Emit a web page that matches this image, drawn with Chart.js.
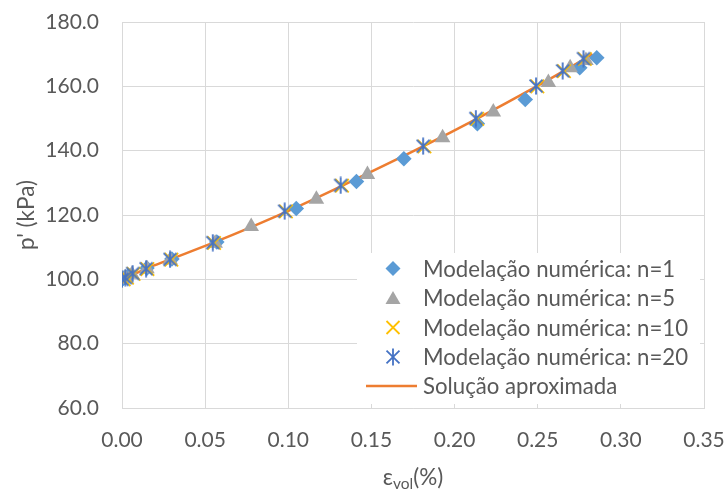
<!DOCTYPE html>
<html>
<head>
<meta charset="utf-8">
<script src="https://cdn.jsdelivr.net/npm/chart.js@4.4.1/dist/chart.umd.min.js"></script>
<style>
html,body{margin:0;padding:0;background:#fff;}
#c{display:block;}
</style>
</head>
<body>
<canvas id="c" width="726" height="492"></canvas>
<script>
// ---- data ----
const seriesNames = ["Modelação numérica: n=1","Modelação numérica: n=5","Modelação numérica: n=10","Modelação numérica: n=20","Solução aproximada"];
const n1X = [0.000,0.001,0.004,0.015,0.030,0.057,0.1048,0.141,0.1695,0.2137,0.2425,0.2753,0.2855];
const n1Y = [100.0,100.4,101.2,103.5,106.3,111.6,122.0,130.4,137.5,148.4,155.9,165.8,168.9];
const n5X = [0.000,0.002,0.006,0.015,0.029,0.056,0.0777,0.1169,0.1476,0.1928,0.2233,0.2564,0.2695,0.279];
const n5Y = [100.0,100.5,101.6,103.3,106.0,111.2,116.4,124.9,132.6,144.0,152.0,161.2,165.8,168.0];
const n10X = [0.001,0.003,0.007,0.0153,0.0297,0.0554,0.0986,0.1323,0.1819,0.2136,0.2498,0.2658,0.2783];
const n10Y = [100.0,100.5,101.7,103.2,106.1,111.3,121.1,129.1,141.3,149.9,160.0,164.7,168.5];
const n20X = [0.000,0.002,0.0064,0.0145,0.0289,0.0546,0.0978,0.1315,0.1811,0.2128,0.249,0.265,0.2775];
const n20Y = [100.0,100.5,101.8,103.3,106.2,111.4,121.2,129.2,141.4,150.0,160.1,164.8,168.6];
const lineX = [0.000,0.0064,0.0145,0.029,0.055,0.078,0.098,0.132,0.181,0.213,0.249,0.265,0.283];
const lineY = [100.0,101.4,103.3,106.2,111.4,116.3,120.8,129.0,141.3,149.8,159.9,164.6,170.0];
const xTicks = [0.00,0.05,0.10,0.15,0.20,0.25,0.30,0.35];
const yTicks = [60,80,100,120,140,160,180];

const pts = (xs, ys) => xs.map((x, i) => ({x: x, y: ys[i]}));

const FONT = 'Lato, "Open Sans", sans-serif';
const TXT = '#595959';
const C1 = '#5B9BD5', C5 = '#A5A5A5', C10 = '#FFC000', C20 = '#4472C4', CL = '#ED7D31';

function asteriskCanvas(size, color, lw) {
  const cv = document.createElement('canvas');
  cv.width = size; cv.height = size;
  const g = cv.getContext('2d');
  const c = size / 2, d = size * 0.36, v = size * 0.47;
  g.strokeStyle = color; g.lineWidth = lw; g.lineCap = 'butt';
  g.beginPath();
  g.moveTo(c - d, c - d); g.lineTo(c + d, c + d);
  g.moveTo(c + d, c - d); g.lineTo(c - d, c + d);
  g.moveTo(c, c - v); g.lineTo(c, c + v);
  g.stroke();
  return cv;
}
const astImg = asteriskCanvas(18, C20, 1.8);

function drawMarker(ctx, kind, x, y) {
  ctx.save();
  if (kind === 'diamond') {
    const r = 7.5;
    ctx.fillStyle = C1;
    ctx.beginPath();
    ctx.moveTo(x, y - r); ctx.lineTo(x + r, y); ctx.lineTo(x, y + r); ctx.lineTo(x - r, y);
    ctx.closePath(); ctx.fill();
  } else if (kind === 'triangle') {
    ctx.fillStyle = C5;
    ctx.beginPath();
    ctx.moveTo(x, y - 7); ctx.lineTo(x + 7.5, y + 6); ctx.lineTo(x - 7.5, y + 6);
    ctx.closePath(); ctx.fill();
  } else if (kind === 'cross') {
    const d = 6.5;
    ctx.strokeStyle = C10; ctx.lineWidth = 1.8;
    ctx.beginPath();
    ctx.moveTo(x - d, y - d); ctx.lineTo(x + d, y + d);
    ctx.moveTo(x + d, y - d); ctx.lineTo(x - d, y + d);
    ctx.stroke();
  } else if (kind === 'ast') {
    ctx.drawImage(astImg, x - 9, y - 9);
  } else if (kind === 'line') {
    ctx.strokeStyle = CL; ctx.lineWidth = 2.5;
    ctx.beginPath(); ctx.moveTo(x - 27, y); ctx.lineTo(x + 24, y); ctx.stroke();
  }
  ctx.restore();
}

const decor = {
  id: 'decor',
  afterDraw(chart) {
    const ctx = chart.ctx;
    const a = chart.chartArea;
    ctx.save();
    // legend box
    const bx = 357, by = 253, bw = 343, bh = 151;
    ctx.fillStyle = '#ffffff';
    ctx.fillRect(bx, by, bw, bh);
    const kinds = ['diamond','triangle','cross','ast','line'];
    const rowY = [268.5, 298, 327.5, 357, 386];
    ctx.font = '22.2px ' + FONT;
    ctx.fillStyle = TXT;
    ctx.textBaseline = 'middle';
    ctx.textAlign = 'left';
    for (let i = 0; i < kinds.length; i++) {
      drawMarker(ctx, kinds[i], 393, rowY[i]);
      ctx.fillStyle = TXT;
      ctx.fillText(seriesNames[i], 423, rowY[i] + 1);
    }
    // y title
    ctx.save();
    ctx.translate(27, (a.top + a.bottom) / 2);
    ctx.rotate(-Math.PI / 2);
    ctx.textAlign = 'center';
    ctx.font = '22.5px ' + FONT;
    ctx.fillText("p' (kPa)", 0, 0);
    ctx.restore();
    // x title with subscript
    const main = '22.5px ' + FONT, sub = '15.5px ' + FONT;
    ctx.font = main; const w1 = ctx.measureText('ε').width;
    const w3 = ctx.measureText('(%)').width;
    ctx.font = sub; const w2 = ctx.measureText('vol').width;
    const tot = w1 + w2 + w3;
    let x0 = (a.left + a.right) / 2 - tot / 2;
    const ty = 478;
    ctx.textAlign = 'left';
    ctx.font = main; ctx.fillText('ε', x0, ty);
    ctx.font = sub; ctx.fillText('vol', x0 + w1, ty + 6);
    ctx.font = main; ctx.fillText('(%)', x0 + w1 + w2, ty);
    ctx.restore();
  }
};

const commonPt = {showLine: false, pointBorderWidth: 0, pointHoverRadius: 0};
const zeroPad = s => { s.paddingTop = 0; s.paddingBottom = 0; s.paddingLeft = 0; s.paddingRight = 0; };

new Chart(document.getElementById('c'), {
  type: 'scatter',
  data: {
    datasets: [
      Object.assign({label: seriesNames[0], data: pts(n1X, n1Y), pointStyle: 'rectRot', pointRadius: 7.8,
        backgroundColor: C1, borderColor: C1, order: 3}, commonPt),
      Object.assign({label: seriesNames[1], data: pts(n5X, n5Y), pointStyle: 'triangle', pointRadius: 9,
        backgroundColor: C5, borderColor: C5, order: 2}, commonPt),
      {label: seriesNames[2], data: pts(n10X, n10Y), pointStyle: 'crossRot', pointRadius: 9.5,
        borderColor: C10, backgroundColor: C10, pointBorderWidth: 1.8, showLine: false, order: 1},
      {label: seriesNames[3], data: pts(n20X, n20Y), pointStyle: astImg, pointRadius: 9,
        borderColor: C20, backgroundColor: C20, showLine: false, order: 0},
      {label: seriesNames[4], data: pts(lineX, lineY), showLine: true, pointRadius: 0,
        borderColor: CL, borderWidth: 2.5, fill: false, cubicInterpolationMode: 'monotone', order: 4}
    ]
  },
  options: {
    responsive: false,
    animation: false,
    events: [],
    layout: {padding: {left: 0, top: 22, right: 22, bottom: 0}},
    plugins: {legend: {display: false}, tooltip: {enabled: false}, title: {display: false}},
    scales: {
      x: {
        type: 'linear', min: 0, max: 0.35,
        afterBuildTicks: s => { s.ticks = xTicks.map(v => ({value: v})); },
        afterFit: s => { s.height = 84; zeroPad(s); },
        grid: {color: '#D9D9D9', lineWidth: 1, drawTicks: false},
        border: {color: '#D9D9D9', width: 1},
        ticks: {color: TXT, font: {family: FONT, size: 21}, padding: 20, maxRotation: 0,
          callback: v => Number(v).toFixed(2)}
      },
      y: {
        type: 'linear', min: 60, max: 180,
        afterBuildTicks: s => { s.ticks = yTicks.map(v => ({value: v})); },
        afterFit: s => { s.width = 122; zeroPad(s); },
        grid: {color: '#D9D9D9', lineWidth: 1, drawTicks: false},
        border: {color: '#D9D9D9', width: 1},
        ticks: {color: TXT, font: {family: FONT, size: 21}, padding: 23,
          callback: v => Number(v).toFixed(1)}
      }
    }
  },
  plugins: [decor]
});
</script>
</body>
</html>
